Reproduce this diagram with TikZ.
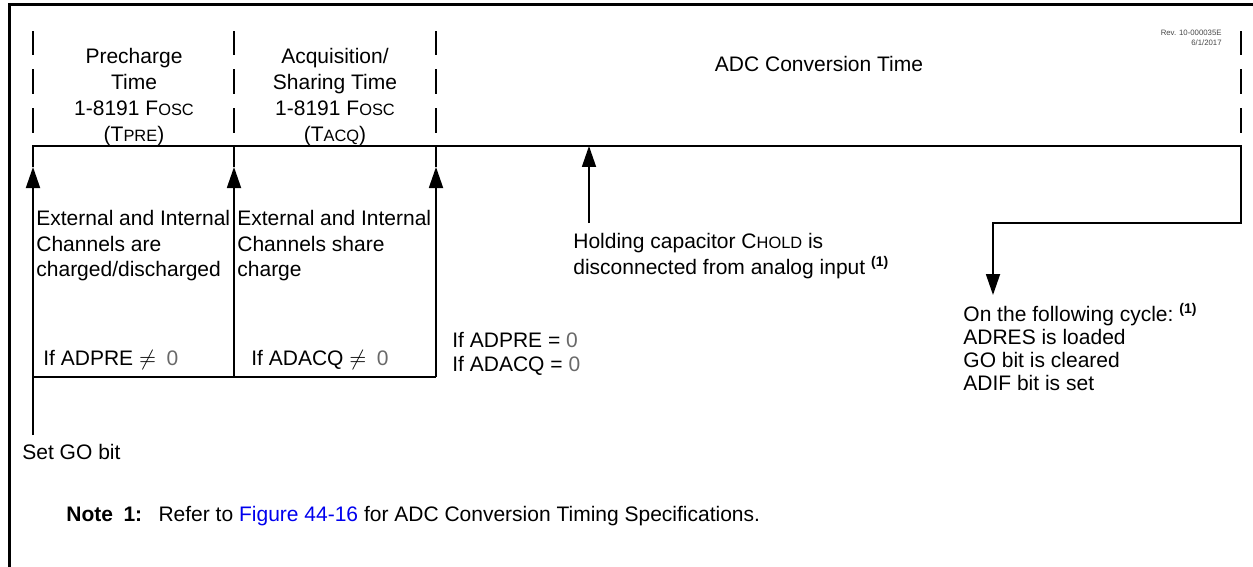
\documentclass[tikz,border=0pt]{standalone}
\usepackage{fontspec}
\setmainfont{Liberation Sans}
\definecolor{figblue}{RGB}{0, 0, 238}
\definecolor{revgray}{RGB}{70, 70, 70}
\definecolor{zerogray}{RGB}{105, 105, 105}
\usetikzlibrary{arrows.meta, positioning}
\newcommand{\lowcap}[1]{{\fontsize{8.2}{8.2}\selectfont #1}}
\newcommand{\noteref}{\ \raisebox{0.75ex}{\fontsize{7}{7}\selectfont\bfseries(1)}}
\newcommand{\zero}{\textcolor{zerogray}{0}}
\tikzset{
	frame/.style={line width=1.5pt, draw=black},
	marker/.style={line width=0.7pt, draw=black, dash pattern=on 12.5pt off 7pt},
	timeline/.style={line width=0.9pt, draw=black},
	event/.style={-{Triangle[length=10.5pt, width=7pt]}, line width=0.9pt, draw=black},
	heading/.style={inner sep=0pt, align=center, font=\fontsize{10.5}{13}\selectfont},
	desc/.style={inner sep=0pt, align=left, font=\fontsize{10.5}{12.75}\selectfont},
	revtxt/.style={inner sep=0pt, align=right, text=revgray, font=\fontsize{3.9}{4.8}\selectfont},
}
\begin{document}
\begin{tikzpicture}[x=0.5pt, y=-0.5pt]
	\useasboundingbox (0,0) rectangle (1253,567);
	% frame
	\draw[frame] (9,567) -- (9,5) -- (1253,5);
	% phase markers
	\foreach \x in {33,234,436,1241}
		\draw[marker] (\x,133) -- (\x,31);
	% phase labels
	\node[heading, anchor=north] (tpre) at (134,48) {Precharge\\Time\\1-8191 F\lowcap{OSC}\\(T\lowcap{PRE})};
	\node[heading, anchor=north] (tacq) at (335,48) {Acquisition/\\Sharing Time\\1-8191 F\lowcap{OSC}\\(T\lowcap{ACQ})};
	\node[heading, anchor=base] (tconv) at (819,72) {ADC Conversion Time};
	\node[revtxt, anchor=north east] (rev) at (1222,30) {Rev. 10-000035E\\6/1/2017};
	% points on the time line
	\coordinate (pre) at (33,146);
	\coordinate (pretip) at (33,167);
	\coordinate (go) at (33,435);
	\coordinate (acq) at (234,146);
	\coordinate (acqtip) at (234,167);
	\coordinate (acqbot) at (234,377);
	\coordinate (conv) at (436,146);
	\coordinate (convtip) at (436,167);
	\coordinate (convbot) at (436,377);
	\coordinate (prebot) at (33,377);
	\coordinate (holdtip) at (589,146);
	\coordinate (holdbot) at (589,223);
	\coordinate (done) at (1241,146);
	\coordinate (donebend) at (1241,223);
	\coordinate (donetip) at (993,295);
	% events
	\node[desc, anchor=north west] (extpre) at (36,210) {External and Internal\\Channels are\\charged/discharged};
	\node[desc, anchor=north west] (extacq) at (237,210) {External and Internal\\Channels share\\charge};
	\node[desc, anchor=base west] (ifpre) at (43,365) {If ADPRE $\neq$\enspace\zero};
	\node[desc, anchor=base west] (ifacq) at (251,365) {If ADACQ $\neq$\enspace\zero};
	\node[desc, anchor=north west, font=\fontsize{10.5}{12}\selectfont] (ifzero) at (452,332) {If ADPRE = \zero\\If ADACQ = \zero};
	\node[desc, anchor=north west, font=\fontsize{10.5}{13}\selectfont] (hold) at (573,233) {Holding capacitor C\lowcap{HOLD} is\\disconnected from analog input\noteref};
	\node[desc, anchor=north west, font=\fontsize{10.5}{11.5}\selectfont] (result) at (963,303) {On the following cycle:\noteref\\ADRES is loaded\\GO bit is cleared\\ADIF bit is set};
	\node[desc, anchor=base west] (setgo) at (22,459) {Set GO bit};
	\node[desc, anchor=base west] (note) at (66,521) {\textbf{Note\enspace1:}\enspace\ Refer to \textcolor{figblue}{Figure 44-16} for ADC Conversion Timing Specifications.};
	% connectors
	\draw[event] (pretip) -- (pre) -- (done) -- (donebend) -| (donetip);
	\draw[timeline] (acq) -- (acqtip);
	\draw[timeline] (conv) -- (convtip);
	\draw[event] (go) -- (pretip);
	\draw[event] (acqbot) -- (acqtip);
	\draw[event] (convbot) -- (convtip);
	\draw[timeline] (prebot) -- (convbot);
	\draw[event] (holdbot) -- (holdtip);
\end{tikzpicture}
\end{document}
